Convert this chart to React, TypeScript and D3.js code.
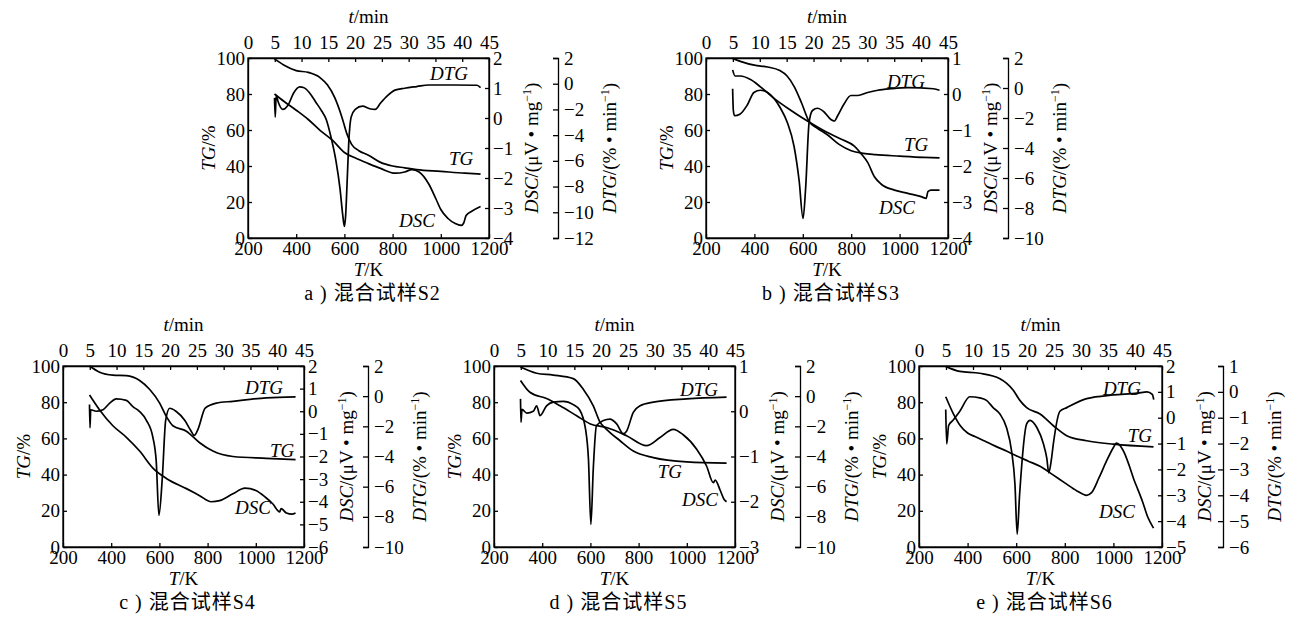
import React, { useEffect, useRef } from 'react';
import * as d3 from 'd3';

type Pt = [number, number];

const tempTicks = [200, 400, 600, 800, 1000, 1200];
const timeTicks = [0, 5, 10, 15, 20, 25, 30, 35, 40, 45];
const tgTicks = [0, 20, 40, 60, 80, 100];

// S2  (T/K, value)
const s2TG: Pt[] = [[310, 99.5], [350, 96], [400, 93], [450, 92], [500, 89], [530, 85], [560, 78], [590, 67], [610, 58], [630, 52], [660, 48.5], [700, 46], [750, 42], [800, 40], [850, 39], [900, 38], [1000, 37], [1100, 36], [1165, 35.5]];
const s2DSC: Pt[] = [[310, 0.8], [350, 0.55], [400, 0.26], [450, -0.05], [500, -0.42], [550, -0.74], [600, -1.15], [650, -1.35], [700, -1.52], [750, -1.68], [810, -1.84], [850, -1.8], [880, -1.72], [910, -1.8], [950, -2.2], [980, -2.7], [1000, -3.05], [1030, -3.35], [1060, -3.52], [1085, -3.58], [1095, -3.5], [1105, -3.25], [1130, -3.1], [1165, -2.95]];
const s2DTG: Pt[] = [[310, -1.1], [313, -2.6], [317, -0.9], [325, -1.4], [345, -2.0], [365, -1.7], [390, -0.7], [415, -0.25], [430, -0.3], [455, -0.7], [480, -1.4], [505, -2.1], [525, -2.8], [545, -4.2], [565, -6.0], [582, -8.2], [593, -10.2], [600, -11.1], [605, -10.3], [611, -7.8], [618, -4.6], [628, -2.6], [645, -2.0], [675, -1.75], [705, -1.95], [728, -2.0], [750, -1.5], [780, -0.9], [810, -0.5], [850, -0.35], [900, -0.22], [950, -0.1], [1050, -0.1], [1150, -0.12], [1165, -0.3]];
const s2DscTicks = [2, 1, 0, -1, -2, -3, -4];
const s2DtgTicks = [2, 0, -2, -4, -6, -8, -10, -12];

// S3
const s3TG: Pt[] = [[310, 99.8], [345, 98], [400, 96], [455, 95], [505, 93], [535, 90], [565, 84], [595, 75], [625, 65], [660, 61], [700, 57.5], [750, 52], [800, 48.5], [850, 47], [900, 46.3], [1000, 45.5], [1100, 44.8], [1165, 44.5]];
const s3DSC: Pt[] = [[310, 0.67], [320, 0.5], [342, 0.5], [384, 0.4], [425, 0.2], [481, -0.12], [550, -0.45], [619, -0.75], [688, -1.02], [757, -1.25], [813, -1.45], [840, -1.65], [868, -1.9], [896, -2.3], [923, -2.5], [979, -2.67], [1034, -2.76], [1089, -2.85], [1110, -2.9], [1117, -2.71], [1130, -2.67], [1165, -2.67]];
const s3DTG: Pt[] = [[310, -0.05], [313, -1.5], [318, -1.85], [340, -1.75], [370, -1.15], [398, -0.3], [425, -0.15], [453, -0.28], [481, -0.7], [508, -1.35], [536, -2.3], [564, -3.9], [585, -6.2], [601, -8.7], [612, -6.6], [626, -2.3], [640, -1.5], [661, -1.35], [688, -1.6], [716, -2.1], [730, -2.2], [744, -1.85], [771, -1.05], [799, -0.5], [827, -0.5], [868, -0.3], [910, -0.15], [965, -0.05], [1034, 0.02], [1140, -0.05], [1165, -0.15]];
const s3DscTicks = [1, 0, -1, -2, -3, -4];
const s3DtgTicks = [2, 0, -2, -4, -6, -8, -10];

// S4
const s4TG: Pt[] = [[310, 100], [352, 96.6], [407, 95], [463, 94.7], [518, 92], [560, 87], [601, 79.5], [629, 72], [656, 67], [712, 64], [767, 57.6], [822, 53], [905, 50], [1044, 49], [1165, 48.3]];
const s4DSC: Pt[] = [[310, 0.72], [352, 0.06], [407, -0.64], [463, -1.15], [518, -1.76], [573, -2.51], [629, -2.97], [712, -3.42], [767, -3.73], [815, -4.0], [850, -3.95], [905, -3.65], [955, -3.4], [1000, -3.5], [1040, -3.8], [1071, -4.1], [1099, -4.45], [1105, -4.3], [1127, -4.5], [1150, -4.55], [1165, -4.5]];
const s4DTG: Pt[] = [[310, -0.56], [312, -2.1], [315, -0.9], [338, -1.0], [366, -0.9], [394, -0.46], [421, -0.18], [463, -0.28], [490, -0.69], [518, -1.02], [546, -1.6], [573, -2.73], [587, -4.36], [598, -7.9], [612, -5.44], [626, -1.6], [643, -0.8], [670, -1.02], [705, -1.6], [730, -2.27], [745, -2.6], [760, -2.2], [790, -0.8], [836, -0.46], [905, -0.34], [1044, -0.11], [1165, -0.05]];
const s4DscTicks = [2, 1, 0, -1, -2, -3, -4, -5, -6];
const s4DtgTicks = [2, 0, -2, -4, -6, -8, -10];

// S5
const s5TG: Pt[] = [[310, 99.4], [377, 96], [446, 95], [529, 93], [571, 87], [612, 78], [640, 69], [667, 65], [723, 58.7], [778, 53], [861, 49.4], [1000, 47], [1165, 46.3]];
const s5DSC: Pt[] = [[310, 0.68], [349, 0.42], [418, 0.28], [474, 0.12], [543, -0.1], [600, -0.28], [667, -0.36], [750, -0.54], [833, -0.76], [889, -0.58], [944, -0.4], [985, -0.52], [1041, -0.84], [1082, -1.21], [1110, -1.58], [1118, -1.52], [1138, -1.74], [1155, -1.95], [1165, -2.0]];
const s5DTG: Pt[] = [[310, -0.18], [312, -1.73], [316, -0.88], [336, -1.12], [363, -1.0], [377, -0.64], [391, -1.29], [418, -0.64], [446, -0.4], [488, -0.34], [529, -0.56], [555, -0.9], [580, -2.2], [592, -4.2], [602, -8.5], [612, -4.8], [625, -1.96], [654, -1.62], [681, -1.52], [709, -1.84], [736, -2.49], [750, -2.32], [778, -1.07], [806, -0.64], [861, -0.4], [1000, -0.18], [1165, -0.06]];
const s5DscTicks = [1, 0, -1, -2, -3];
const s5DtgTicks = [2, 0, -2, -4, -6, -8, -10];

// S6
const s6TG: Pt[] = [[310, 99.8], [368, 97], [450, 96], [533, 93], [588, 86.6], [615, 81], [643, 77], [698, 73.5], [753, 67], [808, 61.5], [890, 58.7], [1000, 56.8], [1165, 55.3]];
const s6DSC: Pt[] = [[310, 0.81], [340, 0.18], [370, -0.31], [400, -0.59], [430, -0.73], [470, -0.9], [510, -1.08], [560, -1.29], [600, -1.47], [650, -1.68], [700, -1.89], [750, -2.2], [800, -2.52], [850, -2.83], [890, -3.0], [910, -2.9], [940, -2.34], [970, -1.71], [1000, -1.15], [1012, -0.98], [1025, -1.05], [1045, -1.36], [1065, -1.85], [1085, -2.41], [1100, -2.76], [1120, -3.25], [1140, -3.81], [1165, -4.27]];
const s6DTG: Pt[] = [[310, -0.68], [314, -2.01], [322, -1.3], [340, -1.1], [368, -0.75], [409, -0.19], [450, -0.23], [478, -0.33], [505, -0.61], [533, -0.86], [560, -1.38], [581, -2.29], [595, -3.59], [604, -5.5], [614, -3.97], [643, -1.24], [657, -1.1], [685, -1.38], [712, -2.01], [726, -2.57], [734, -3.13], [745, -2.6], [753, -2.0], [780, -0.75], [808, -0.61], [890, -0.26], [1000, -0.12], [1100, -0.05], [1138, 0], [1160, -0.1], [1166, -0.3]];
const s6DscTicks = [2, 1, 0, -1, -2, -3, -4, -5];
const s6DtgTicks = [1, 0, -1, -2, -3, -4, -5, -6];

const FONT = '"Liberation Serif", "Times New Roman", "Noto Sans CJK SC", serif';

const panels = [
  { caption: 'a ) 混合试样S2', left: 248, top: 58, w: 241, h: 180, dtgGap: 69, tg: s2TG, dsc: s2DSC, dtg: s2DTG, dscDomain: [-4, 2], dscTicks: s2DscTicks, dtgDomain: [-12, 2], dtgTicks: s2DtgTicks, tags: { DTG: [1034, 91.7], TG: [1084, 44], DSC: [901, 10] } },
  { caption: 'b ) 混合试样S3', left: 706, top: 58, w: 242, h: 180, dtgGap: 60, tg: s3TG, dsc: s3DSC, dtg: s3DTG, dscDomain: [-4, 1], dscTicks: s3DscTicks, dtgDomain: [-10, 2], dtgTicks: s3DtgTicks, tags: { DTG: [1026, 87], TG: [1068, 52], DSC: [989, 17] } },
  { caption: 'c ) 混合试样S4', left: 63, top: 366, w: 241, h: 181, dtgGap: 64, tg: s4TG, dsc: s4DSC, dtg: s4DTG, dscDomain: [-6, 2], dscTicks: s4DscTicks, dtgDomain: [-10, 2], dtgTicks: s4DtgTicks, tags: { DTG: [1034, 88], TG: [1109, 53.6], DSC: [988, 22] } },
  { caption: 'd ) 混合试样S5', left: 494, top: 366, w: 241, h: 181, dtgGap: 65, tg: s5TG, dsc: s5DSC, dtg: s5DTG, dscDomain: [-3, 1], dscTicks: s5DscTicks, dtgDomain: [-10, 2], dtgTicks: s5DtgTicks, tags: { DTG: [1051, 87], TG: [930, 42], DSC: [1055, 26.5] } },
  { caption: 'e ) 混合试样S6', left: 919, top: 366, w: 243, h: 181, dtgGap: 61, tg: s6TG, dsc: s6DSC, dtg: s6DTG, dscDomain: [-5, 2], dscTicks: s6DscTicks, dtgDomain: [-6, 1], dtgTicks: s6DtgTicks, tags: { DTG: [1035, 87.8], TG: [1109, 61.9], DSC: [1015, 19.9] } },
];

function drawPanel(svg: any, p: any) {
  const { w, h } = p;
  const g = svg.append('g').attr('transform', `translate(${p.left},${p.top})`);

  const x = d3.scaleLinear().domain([200, 1200]).range([0, w]);
  const t = d3.scaleLinear().domain([0, 45]).range([0, w]);
  const y = d3.scaleLinear().domain([0, 100]).range([h, 0]);
  const yDsc = d3.scaleLinear().domain(p.dscDomain).range([h, 0]);
  const yDtg = d3.scaleLinear().domain(p.dtgDomain).range([h, 0]);
  const fmt = d3.format('d');

  const style = (a: any) => {
    a.attr('font-family', FONT).attr('font-size', 19);
    a.select('.domain').attr('stroke-width', 1.3);
    a.selectAll('.tick line').attr('stroke-width', 1.3);
  };

  g.append('rect').attr('width', w).attr('height', h).attr('fill', 'none').attr('stroke', '#000').attr('stroke-width', 1.3);

  g.append('g').attr('transform', `translate(0,${h})`)
    .call(d3.axisBottom(x).tickValues(tempTicks).tickSizeInner(-4).tickSizeOuter(0).tickPadding(4).tickFormat(fmt)).call(style);
  g.append('g')
    .call(d3.axisTop(t).tickValues(timeTicks).tickSizeInner(-4).tickSizeOuter(0).tickPadding(9).tickFormat(fmt)).call(style);
  g.append('g')
    .call(d3.axisLeft(y).tickValues(tgTicks).tickSizeInner(-4).tickSizeOuter(0).tickPadding(3).tickFormat(fmt)).call(style);
  g.append('g').attr('transform', `translate(${w},0)`)
    .call(d3.axisRight(yDsc).tickValues(p.dscTicks).tickSizeInner(-4).tickSizeOuter(0).tickPadding(4).tickFormat(fmt)).call(style);
  g.append('g').attr('transform', `translate(${w + p.dtgGap},0)`)
    .call(d3.axisRight(yDtg).tickValues(p.dtgTicks).tickSizeInner(-5).tickSizeOuter(-5).tickPadding(6).tickFormat(fmt)).call(style);

  const line = (ys: any) => d3.line<Pt>().x(d => x(d[0])).y(d => ys(d[1])).curve(d3.curveMonotoneX);
  [[p.tg, y], [p.dsc, yDsc], [p.dtg, yDtg]].forEach(([data, ys]: any) => {
    g.append('path').datum(data).attr('d', line(ys)).attr('fill', 'none')
      .attr('stroke', '#000').attr('stroke-width', 1.7).attr('stroke-linejoin', 'round');
  });

  // curve tags
  Object.entries(p.tags).forEach(([name, pos]: any) => {
    g.append('text').attr('x', x(pos[0])).attr('y', y(pos[1])).attr('dy', '0.35em')
      .attr('text-anchor', 'middle').attr('font-family', FONT).attr('font-size', 19)
      .attr('font-style', 'italic').text(name);
  });

  const txt = (sx: number, sy: number, rot = false) => g.append('text')
    .attr('transform', `translate(${sx},${sy})${rot ? ' rotate(-90)' : ''}`)
    .attr('text-anchor', 'middle').attr('font-family', FONT).attr('font-size', 19);

  const tm = txt(w / 2, -35);
  tm.append('tspan').attr('font-style', 'italic').text('t');
  tm.append('tspan').text('/min');

  const tk = txt(w / 2, h + 38);
  tk.append('tspan').attr('font-style', 'italic').text('T');
  tk.append('tspan').text('/K');

  txt(w / 2 + 4, h + 62).attr('font-size', 20).attr('letter-spacing', 1).text(p.caption);

  const tg = txt(-40, h / 2, true).attr('dy', '0.35em');
  tg.append('tspan').attr('font-style', 'italic').text('TG');
  tg.append('tspan').text('/%');

  const ds = txt(w + 42, h / 2, true).attr('dy', '0.35em');
  ds.append('tspan').attr('font-style', 'italic').text('DSC');
  ds.append('tspan').text('/(μV • mg');
  ds.append('tspan').attr('baseline-shift', 'super').attr('font-size', 12).text('−1');
  ds.append('tspan').text(')');

  const dt = txt(w + p.dtgGap + 51, h / 2, true).attr('dy', '0.35em');
  dt.append('tspan').attr('font-style', 'italic').text('DTG');
  dt.append('tspan').text('/(% • min');
  dt.append('tspan').attr('baseline-shift', 'super').attr('font-size', 12).text('−1');
  dt.append('tspan').text(')');
}

function App() {
  const ref = useRef<SVGSVGElement>(null);

  useEffect(() => {
    const svg = d3.select(ref.current);
    svg.selectAll('*').remove();
    panels.forEach(p => drawPanel(svg, p));
    return () => {
      d3.select(ref.current).selectAll('*').remove();
    };
  }, []);

  return <svg ref={ref} width={1297} height={620} style={{ position: 'absolute', left: 0, top: 0, background: '#fff' }}></svg>;
}

export default App;
